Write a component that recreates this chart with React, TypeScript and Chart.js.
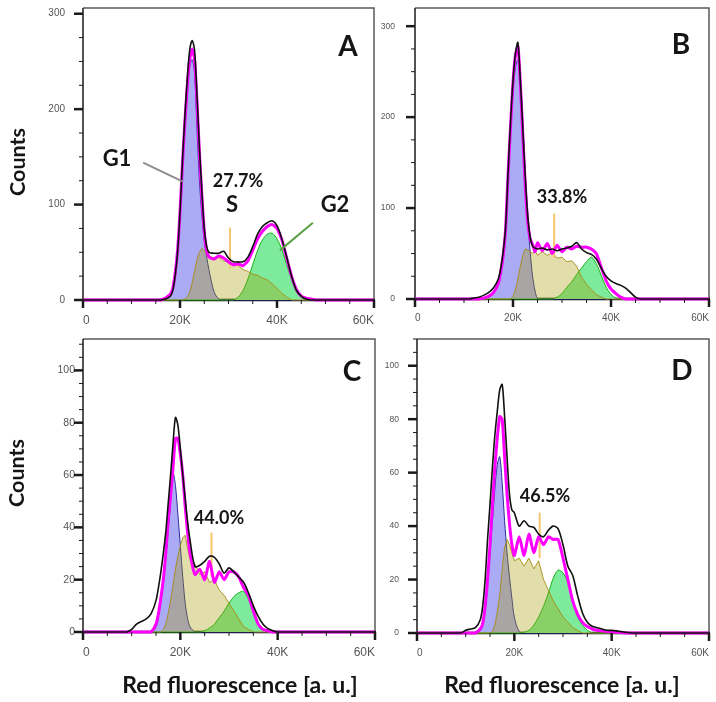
import React, { useEffect, useRef } from 'react';
import { Chart, registerables } from 'chart.js';

Chart.register(...registerables);

// ---------------- Panel A ----------------
const aX = [
  0, 15, 16, 17, 18,
  18.5, 19, 19.5, 20, 20.5, 21, 21.5, 22, 22.5, 23,
  23.5, 24, 24.5, 25, 25.5, 26,
  27, 28, 29, 30, 31, 32, 33, 34, 35, 36,
  37, 38, 39, 40, 41, 42, 43, 44, 45, 46,
  47, 48, 60,
];
const aTotal = [
  0, 0, 0, 1, 4,
  10, 25, 50, 92, 145, 192, 232, 262, 272, 262,
  215, 160, 115, 75, 56, 50,
  49, 49, 51, 44, 40, 40, 40, 45, 56, 69,
  77, 81, 83, 78, 64, 45, 25, 10, 4, 1,
  0, 0, 0,
];
const aFit = [
  0, 0, 0, 2, 6,
  12, 28, 52, 92, 142, 186, 224, 252, 263, 252,
  208, 155, 110, 72, 52, 45,
  43, 46, 44, 40, 37, 38, 36, 41, 52, 64,
  72, 77, 79, 75, 63, 44, 25, 11, 4, 2,
  1, 0, 0,
];
const aG1 = [
  0, 0, 0, 1, 5,
  11, 26, 50, 88, 138, 180, 218, 245, 252, 238,
  180, 125, 90, 62, 45, 31,
  9, 1, 0, 0, 0, 0, 0, 0, 0, 0,
  0, 0, 0, 0, 0, 0, 0, 0, 0, 0,
  0, 0, 0,
];
const aS = [
  0, 0, 0, 0, 0,
  0, 0, 0, 0, 0, 1, 3, 8, 18, 30,
  42, 50, 54, 52, 48, 46,
  44, 45, 41, 40, 37, 36, 32, 30, 27, 26,
  23, 21, 17, 12, 7, 3, 0, 0, 0, 0,
  0, 0, 0,
];
const aG2 = [
  0, 0, 0, 0, 0,
  0, 0, 0, 0, 0, 0, 0, 0, 0, 0,
  0, 0, 0, 0, 0, 0,
  0, 0, 0, 0, 0, 3, 10, 22, 37, 52,
  63, 69, 70, 64, 53, 37, 22, 11, 3, 0,
  0, 0, 0,
];
const aMarkerX = [30.3, 30.3];
const aMarkerY = [33, 76];
const aG1LeaderX = [12.4, 20.6];
const aG1LeaderY = [144, 124];
const aG2LeaderX = [47.4, 40.6];
const aG2LeaderY = [81, 52];

// ---------------- Panel B ----------------
const bX = [
  0, 10, 11, 12, 13, 14, 15, 16, 17,
  17.5, 18, 18.5, 19, 19.5, 20, 20.5, 21,
  21.5, 22, 22.5, 23, 23.5, 24, 24.5, 25,
  26, 27, 28, 29, 30, 31, 32, 33, 34, 35,
  36, 37, 38, 39, 40, 41, 42, 43, 44, 45, 46,
  60,
];
const bTotal = [
  0, 0, 0, 1, 2, 4, 7, 12, 22,
  34, 52, 80, 140, 195, 240, 270, 282,
  240, 188, 135, 92, 68, 58, 56, 55,
  56, 54, 55, 53, 55, 56, 58, 62, 55, 51,
  49, 44, 34, 25, 20, 17, 15, 12, 7, 2, 0,
  0,
];
const bFit = [
  0, 0, 0, 0, 0, 1, 3, 7, 17,
  30, 48, 78, 138, 190, 238, 268, 278,
  238, 180, 125, 85, 66, 60, 52, 62,
  53, 61, 50, 59, 52, 57, 55, 58, 57, 57,
  55, 50, 35, 20, 11, 6, 2, 0, 0, 0, 0,
  0,
];
const bG1 = [
  0, 0, 0, 0, 0, 0, 2, 6, 16,
  28, 46, 75, 135, 185, 230, 255, 263,
  245, 195, 135, 88, 52, 25, 9, 1,
  0, 0, 0, 0, 0, 0, 0, 0, 0, 0,
  0, 0, 0, 0, 0, 0, 0, 0, 0, 0, 0,
  0,
];
const bS = [
  0, 0, 0, 0, 0, 0, 0, 0, 0,
  0, 0, 0, 0, 0, 3, 10, 22,
  36, 48, 55, 54, 52, 50, 53, 48,
  52, 48, 51, 45, 46, 41, 42, 36, 24, 16,
  10, 5, 2, 0, 0, 0, 0, 0, 0, 0, 0,
  0,
];
const bG2 = [
  0, 0, 0, 0, 0, 0, 0, 0, 0,
  0, 0, 0, 0, 0, 0, 0, 0,
  0, 0, 0, 0, 0, 0, 0, 0,
  0, 0, 0, 2, 6, 13, 19, 27, 34, 41,
  46, 39, 26, 13, 5, 1, 0, 0, 0, 0, 0,
  0,
];
const bMarkerX = [28.4, 28.4];
const bMarkerY = [45, 94];

// ---------------- Panel C ----------------
const cX = [
  0, 8, 9, 10, 11, 12, 13, 14, 15,
  15.5, 16, 16.5, 17, 17.5, 18, 18.5,
  19, 19.5, 20, 20.5, 21, 21.5, 22,
  23, 24, 25, 26, 27, 28, 29, 30, 31, 32,
  33, 34, 35, 36, 37, 38, 39, 40, 41, 42,
  60,
];
const cTotal = [
  0, 0, 0, 1, 3, 4, 5, 7, 12,
  17, 23, 30, 38, 49, 60, 72,
  82, 79, 70, 60, 51, 42, 35,
  25, 25.5, 27, 29, 28.5, 26, 22.5, 24.5, 23, 21,
  19, 15, 10, 6, 3, 1.3, 0.5, 0, 0, 0,
  0,
];
const cFit = [
  0, 0, 0, 0, 0, 0, 0, 0, 3,
  7, 13, 20, 30, 42, 52, 63,
  74, 74, 68, 60, 48, 38, 30,
  22, 24, 20, 27, 19, 23, 20, 23, 23, 21,
  17, 14, 8, 3, 1, 0.5, 0, 0, 0, 0,
  0,
];
const cG1 = [
  0, 0, 0, 0, 0, 0, 0, 0, 2,
  6, 12, 19, 28, 39, 50, 61,
  56, 45, 33, 21, 11, 5, 2,
  0, 0, 0, 0, 0, 0, 0, 0, 0, 0,
  0, 0, 0, 0, 0, 0, 0, 0, 0, 0,
  0,
];
const cS = [
  0, 0, 0, 0, 0, 0, 0, 0, 0,
  0, 0, 1, 3, 7, 12, 18,
  24, 29, 33, 36, 37, 32, 28,
  26, 22, 23, 19, 20, 16, 14, 11, 8, 5,
  2, 1, 0, 0, 0, 0, 0, 0, 0, 0,
  0,
];
const cG2 = [
  0, 0, 0, 0, 0, 0, 0, 0, 0,
  0, 0, 0, 0, 0, 0, 0,
  0, 0, 0, 0, 0, 0, 0,
  0, 0, 0.5, 1.5, 3, 5.5, 8, 11, 13.5, 15,
  15.5, 12.5, 8, 3.5, 1, 0, 0, 0, 0, 0,
  0,
];
const cMarkerX = [26.4, 26.4];
const cMarkerY = [21, 38];

// ---------------- Panel D ----------------
const dX = [
  0, 8, 9, 10, 11, 12, 13,
  13.5, 14, 14.5, 15, 15.5, 16, 16.5,
  17, 17.5, 18, 18.5, 19, 19.5, 20,
  21, 22, 23, 24, 25, 26, 27, 28, 29, 30,
  31, 32, 33, 34, 35, 36, 37, 38, 39, 40,
  41, 42, 43, 44, 60,
];
const dTotal = [
  0, 0, 0, 1, 1.5, 2, 5,
  10, 20, 35, 48, 62, 74, 83,
  91, 93, 81, 66, 52, 46, 45,
  40, 42, 40, 39.5, 37, 36, 38.5, 40, 39, 33,
  25, 21.5, 14, 7.5, 4, 2.5, 2, 1.5, 1, 1,
  0.8, 0.5, 0.3, 0, 0,
];
const dFit = [
  0, 0, 0, 0, 0, 0, 1.5,
  3.5, 10, 20, 33, 48, 62, 73,
  81, 80, 66, 52, 41, 33, 29,
  36, 29, 37, 30, 36, 33, 36, 35, 35, 28,
  20, 12, 7, 4, 2.4, 1.5, 1, 0.8, 0.6, 0.4,
  0.3, 0.2, 0, 0, 0,
];
const dG1 = [
  0, 0, 0, 0, 0, 0, 1,
  3.5, 9, 19, 30, 42, 54, 63,
  66, 56, 42, 30, 21, 13, 6,
  0.5, 0, 0, 0, 0, 0, 0, 0, 0, 0,
  0, 0, 0, 0, 0, 0, 0, 0, 0, 0,
  0, 0, 0, 0, 0,
];
const dS = [
  0, 0, 0, 0, 0, 0, 0,
  0, 0, 0, 0, 0.5, 3, 8,
  14, 24, 32, 35, 33, 30, 27,
  28, 25, 28, 24, 27, 20, 16, 12, 9, 6,
  4, 2, 1, 0, 0, 0, 0, 0, 0, 0,
  0, 0, 0, 0, 0,
];
const dG2 = [
  0, 0, 0, 0, 0, 0, 0,
  0, 0, 0, 0, 0, 0, 0,
  0, 0, 0, 0, 0, 0, 0,
  0, 0.3, 1, 3, 6, 10, 15, 20.5, 23.5, 22.5,
  19, 12.5, 6, 3, 1, 0, 0, 0, 0, 0,
  0, 0, 0, 0, 0,
];
const dMarkerX = [25.2, 25.2];
const dMarkerY = [28, 45];

// ---------------- Texts ----------------
const panelLetters = ['A', 'B', 'C', 'D'];
const sPhasePercents = ['27.7%', '33.8%', '44.0%', '46.5%'];
const phaseLabels = ['G1', 'S', 'G2'];
const yAxisTitle = 'Counts';
const xAxisTitle = 'Red fluorescence [a. u.]';

// ---------------- Layout (pixels, styles) ----------------
type Layout = {
  left: number; top: number; w: number; h: number;
  padTop: number; padRight: number; yW: number; xH: number;
  yMax: number; yStep: number; yMajor: number;
  yFont: number; yPad: number; xFont: number; xPad: number;
};

const layouts: Layout[] = [
  { left: 0, top: 0, w: 382, h: 338, padTop: 8, padRight: 8, yW: 83, xH: 38, yMax: 306, yStep: 25, yMajor: 100, yFont: 10, yPad: 18, xFont: 12, xPad: 13 },
  { left: 370, top: 0, w: 346, h: 338, padTop: 8, padRight: 7, yW: 45, xH: 39, yMax: 320, yStep: 25, yMajor: 100, yFont: 8.5, yPad: 20, xFont: 10, xPad: 13 },
  { left: 0, top: 330, w: 382, h: 340, padTop: 9, padRight: 7, yW: 83, xH: 38, yMax: 112, yStep: 5, yMajor: 20, yFont: 10.5, yPad: 8, xFont: 12, xPad: 13 },
  { left: 370, top: 330, w: 346, h: 340, padTop: 9, padRight: 7, yW: 47, xH: 37, yMax: 110, yStep: 5, yMajor: 20, yFont: 8.5, yPad: 18, xFont: 10, xPad: 14 },
];

type PanelData = {
  x: number[]; total: number[]; fit: number[]; g1: number[]; s: number[]; g2: number[];
  markerX: number[]; markerY: number[];
  leaders?: { x: number[]; y: number[]; color: string }[];
};

const panels: PanelData[] = [
  {
    x: aX, total: aTotal, fit: aFit, g1: aG1, s: aS, g2: aG2, markerX: aMarkerX, markerY: aMarkerY,
    leaders: [
      { x: aG1LeaderX, y: aG1LeaderY, color: '#8e8e8e' },
      { x: aG2LeaderX, y: aG2LeaderY, color: '#5c9f48' },
    ],
  },
  { x: bX, total: bTotal, fit: bFit, g1: bG1, s: bS, g2: bG2, markerX: bMarkerX, markerY: bMarkerY },
  { x: cX, total: cTotal, fit: cFit, g1: cG1, s: cS, g2: cG2, markerX: cMarkerX, markerY: cMarkerY },
  { x: dX, total: dTotal, fit: dFit, g1: dG1, s: dS, g2: dG2, markerX: dMarkerX, markerY: dMarkerY },
];

const TICK_FONT = '"Liberation Sans", Arial, sans-serif';
const TITLE_FONT = 'Lato, "Open Sans", "Noto Sans", sans-serif';

function makeFramePlugin(L: Layout) {
  return {
    id: 'frameTicks',
    beforeDatasetsDraw(chart: any) {
      const { ctx, chartArea: a } = chart;
      ctx.save();
      ctx.lineCap = 'butt';
      ctx.strokeStyle = '#5a5a5a';
      ctx.lineWidth = 1.5;
      ctx.beginPath();
      ctx.moveTo(a.left, a.top);
      ctx.lineTo(a.right, a.top);
      ctx.lineTo(a.right, a.bottom);
      ctx.stroke();
      ctx.strokeStyle = '#1a1a1a';
      ctx.beginPath();
      ctx.moveTo(a.left, a.top);
      ctx.lineTo(a.left, a.bottom);
      ctx.stroke();
      ctx.strokeStyle = '#111';
      ctx.lineWidth = 2.5;
      ctx.beginPath();
      ctx.moveTo(a.left - 1, a.bottom);
      ctx.lineTo(a.right + 1, a.bottom);
      ctx.stroke();
      ctx.restore();
    },
    afterDraw(chart: any) {
      const { ctx, chartArea: a } = chart;
      const xs = chart.scales.x;
      const ys = chart.scales.y;
      ctx.save();
      ctx.lineCap = 'butt';
      ctx.strokeStyle = '#1a1a1a';
      for (let v = 0; v <= L.yMax + 1e-9; v += L.yStep) {
        const y = ys.getPixelForValue(v);
        const major = v % L.yMajor === 0;
        ctx.lineWidth = major ? 2.5 : 1;
        ctx.beginPath();
        ctx.moveTo(a.left - (major ? 9 : 4), y);
        ctx.lineTo(a.left, y);
        ctx.stroke();
      }
      for (let v = 0; v <= 60; v += 5) {
        const x = xs.getPixelForValue(v);
        const major = v % 20 === 0;
        ctx.lineWidth = major ? 2.5 : 1;
        ctx.beginPath();
        ctx.moveTo(x, a.bottom);
        ctx.lineTo(x, a.bottom + (major ? 8 : 4));
        ctx.stroke();
      }
      ctx.restore();
    },
  };
}

function buildDatasets(p: PanelData) {
  const pts = (ys: number[]) => p.x.map((x, i) => ({ x, y: ys[i] }));
  const pair = (xs: number[], ys: number[]) => xs.map((x, i) => ({ x, y: ys[i] }));
  const base = { pointRadius: 0, pointHoverRadius: 0, clip: 4 };
  const ds: any[] = [
    { ...base, label: 'G1', data: pts(p.g1), borderColor: '#2c2c9e', borderWidth: 1, backgroundColor: '#aaaaf5', fill: 'origin', tension: 0.3, order: 9 },
    { ...base, label: 'G2', data: pts(p.g2), borderColor: '#14b414', borderWidth: 1, backgroundColor: '#7eea9c', fill: 'origin', tension: 0.3, order: 8 },
    { ...base, label: 'S', data: pts(p.s), borderColor: 'rgba(165,140,20,0.9)', borderWidth: 1, backgroundColor: 'rgba(164,155,0,0.33)', fill: 'origin', tension: 0, order: 7 },
    { ...base, label: 'S marker', data: pair(p.markerX, p.markerY), borderColor: '#f4c66c', borderWidth: 2, fill: false, order: 6 },
    { ...base, label: 'Fit', data: pts(p.fit), borderColor: '#ff00ff', borderWidth: 3, fill: false, tension: 0.2, order: 3 },
    { ...base, label: 'Total', data: pts(p.total), borderColor: '#111111', borderWidth: 1.6, fill: false, tension: 0.3, order: 2 },
  ];
  (p.leaders || []).forEach((l, i) => {
    ds.push({ ...base, label: 'leader' + i, data: pair(l.x, l.y), borderColor: l.color, borderWidth: 2, fill: false, order: 0 });
  });
  return ds;
}

function Panel({ data, layout }: { data: PanelData; layout: Layout }) {
  const ref = useRef<HTMLCanvasElement>(null);
  useEffect(() => {
    const L = layout;
    const zeroPad = (s: any) => {
      s.paddingLeft = 0; s.paddingRight = 0; s.paddingTop = 0; s.paddingBottom = 0;
    };
    const chart = new Chart(ref.current as HTMLCanvasElement, {
      type: 'line',
      data: { datasets: buildDatasets(data) },
      options: {
        animation: false,
        responsive: false,
        events: [],
        layout: { padding: { left: 0, top: L.padTop, right: L.padRight, bottom: 0 } },
        plugins: { legend: { display: false }, tooltip: { enabled: false } },
        scales: {
          x: {
            type: 'linear', min: 0, max: 60,
            grid: { display: false, drawTicks: false }, border: { display: false },
            ticks: {
              stepSize: 5, autoSkip: false, maxRotation: 0, minRotation: 0, align: 'inner', includeBounds: false,
              padding: L.xPad, color: '#555', font: { family: TICK_FONT, size: L.xFont },
              callback: (v: any) => (v === 0 ? '0' : v % 20 === 0 ? v + 'K' : ''),
            },
            afterFit: (s: any) => { s.height = L.xH; zeroPad(s); },
          },
          y: {
            type: 'linear', min: 0, max: L.yMax,
            grid: { display: false, drawTicks: false }, border: { display: false },
            ticks: {
              stepSize: L.yStep, autoSkip: false, includeBounds: false,
              padding: L.yPad, color: '#555', font: { family: TICK_FONT, size: L.yFont },
              callback: (v: any) => (v % L.yMajor === 0 ? String(v) : ''),
            },
            afterFit: (s: any) => { s.width = L.yW; zeroPad(s); },
          },
        },
      } as any,
      plugins: [makeFramePlugin(L)],
    });
    return () => chart.destroy();
  }, []);
  return (
    <canvas
      ref={ref}
      width={layout.w}
      height={layout.h}
      style={{ position: 'absolute', left: layout.left, top: layout.top, width: layout.w, height: layout.h }}
    />
  );
}

function Label({ x, y, size, text, rotate }: { x: number; y: number; size: number; text: string; rotate?: boolean }) {
  return (
    <div
      style={{
        position: 'absolute', left: x, top: y,
        transform: 'translate(-50%, -50%)' + (rotate ? ' rotate(-90deg)' : ''),
        font: `bold ${size}px ${TITLE_FONT}`, color: '#151515', whiteSpace: 'nowrap', lineHeight: 1,
      }}
    >
      {text}
    </div>
  );
}

const letterPos = [[348, 45], [681, 43], [352, 370], [682, 369]];
const percentPos = [[238, 180], [562, 196], [219, 517], [545, 495]];
const phasePos = [[117, 158], [232, 204], [335, 204]];

export default function App() {
  return (
    <div style={{ position: 'absolute', left: 0, top: 0, width: 716, height: 702, background: '#fff', overflow: 'hidden' }}>
      {panels.map((p, i) => (
        <Panel key={i} data={p} layout={layouts[i]} />
      ))}
      <Label x={18} y={162} size={21.5} text={yAxisTitle} rotate />
      <Label x={17} y={473} size={21.5} text={yAxisTitle} rotate />
      <Label x={240} y={684} size={23} text={xAxisTitle} />
      <Label x={562} y={684} size={23} text={xAxisTitle} />
      {panelLetters.map((t, i) => (
        <Label key={'l' + i} x={letterPos[i][0]} y={letterPos[i][1]} size={28} text={t} />
      ))}
      {sPhasePercents.map((t, i) => (
        <Label key={'p' + i} x={percentPos[i][0]} y={percentPos[i][1]} size={18} text={t} />
      ))}
      {phaseLabels.map((t, i) => (
        <Label key={'g' + i} x={phasePos[i][0]} y={phasePos[i][1]} size={22} text={t} />
      ))}
    </div>
  );
}
